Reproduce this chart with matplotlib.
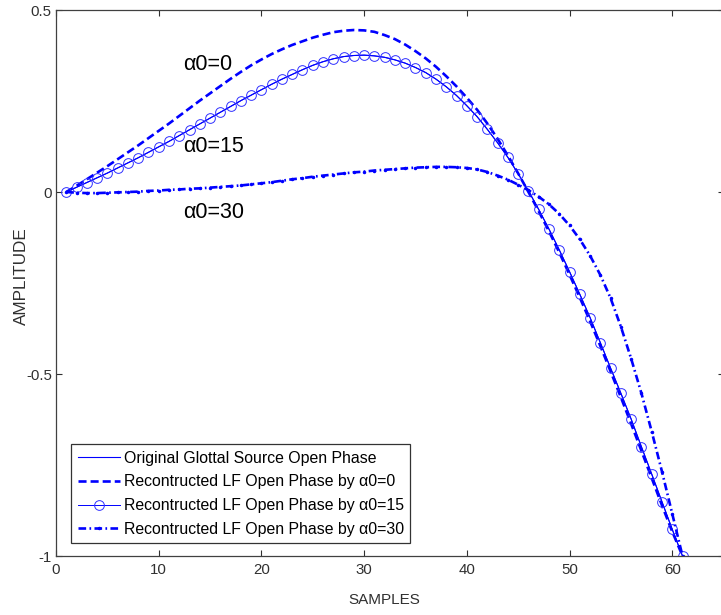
import matplotlib
matplotlib.use("Agg")
import matplotlib.pyplot as plt

plt.rcParams['font.family'] = ['Liberation Sans', 'DejaVu Sans']
plt.rcParams['lines.scale_dashes'] = False

samples = list(range(1, 62))

original = [
    0.000, 0.013, 0.026, 0.039, 0.052, 0.066, 0.080, 0.094, 0.109, 0.124,
    0.139, 0.155, 0.171, 0.187, 0.203, 0.219, 0.235, 0.251, 0.266, 0.281,
    0.296, 0.310, 0.323, 0.336, 0.348, 0.358, 0.366, 0.372, 0.375, 0.376,
    0.374, 0.370, 0.363, 0.354, 0.342, 0.328, 0.310, 0.289, 0.265, 0.237,
    0.207, 0.172, 0.135, 0.095, 0.050, 0.003, -0.048, -0.102, -0.159, -0.219,
    -0.281, -0.345, -0.414, -0.484, -0.553, -0.624, -0.700, -0.775, -0.851, -0.927,
    -1.000,
]

recon_a0 = [
    0.000, 0.017, 0.035, 0.053, 0.071, 0.090, 0.109, 0.128, 0.148, 0.168,
    0.188, 0.209, 0.230, 0.251, 0.271, 0.291, 0.311, 0.330, 0.348, 0.364,
    0.379, 0.392, 0.404, 0.414, 0.424, 0.432, 0.439, 0.443, 0.445, 0.444,
    0.440, 0.431, 0.420, 0.405, 0.387, 0.367, 0.344, 0.318, 0.290, 0.259,
    0.226, 0.188, 0.146, 0.100, 0.051, 0.000, -0.053, -0.108, -0.166, -0.227,
    -0.290, -0.355, -0.423, -0.493, -0.564, -0.637, -0.711, -0.786, -0.861, -0.933,
    -1.000,
]

recon_a15 = [
    0.000, 0.013, 0.026, 0.039, 0.052, 0.066, 0.080, 0.094, 0.109, 0.124,
    0.139, 0.155, 0.171, 0.187, 0.203, 0.219, 0.235, 0.251, 0.266, 0.281,
    0.296, 0.310, 0.323, 0.336, 0.348, 0.358, 0.366, 0.372, 0.375, 0.376,
    0.374, 0.370, 0.363, 0.354, 0.342, 0.328, 0.310, 0.289, 0.265, 0.237,
    0.207, 0.172, 0.135, 0.095, 0.050, 0.003, -0.048, -0.102, -0.159, -0.219,
    -0.281, -0.345, -0.414, -0.484, -0.553, -0.624, -0.700, -0.775, -0.851, -0.927,
    -1.000,
]

recon_a30 = [
    0.000, -0.002, -0.003, -0.003, -0.002, -0.001, 0.000, 0.001, 0.003, 0.004,
    0.006, 0.007, 0.009, 0.010, 0.012, 0.014, 0.016, 0.018, 0.021, 0.024,
    0.027, 0.031, 0.035, 0.038, 0.042, 0.045, 0.048, 0.051, 0.054, 0.056,
    0.059, 0.061, 0.063, 0.065, 0.067, 0.068, 0.069, 0.069, 0.068, 0.066,
    0.062, 0.055, 0.045, 0.034, 0.020, 0.005, -0.013, -0.034, -0.060, -0.092,
    -0.130, -0.175, -0.228, -0.292, -0.370, -0.458, -0.553, -0.658, -0.768, -0.884,
    -1.000,
]

series_labels = [
    'Original Glottal Source Open Phase',
    'Recontructed LF Open Phase by α0=0',
    'Recontructed LF Open Phase by α0=15',
    'Recontructed LF Open Phase by α0=30',
]

curve_notes = ['α0=0', 'α0=15', 'α0=30']
note_x = [12.4, 12.4, 12.4]
note_y = [0.349, 0.126, -0.055]

x_ticks = [0, 10, 20, 30, 40, 50, 60]
y_ticks = [-1, -0.5, 0, 0.5]
y_tick_labels = ['-1', '-0.5', '0', '0.5']

W, H = 721, 615
fig = plt.figure(figsize=(W / 100, H / 100), dpi=100)
ax = fig.add_axes([56 / W, 1 - 556 / H, (723.6 - 56) / W, (556 - 10) / H])

blue = '#0000ff'
ax.plot(samples, original, color=blue, lw=0.8, label=series_labels[0])
ax.plot(samples, recon_a0, color=blue, lw=1.9, dashes=(5.8, 2.9),
        label=series_labels[1])
ax.plot(samples, recon_a15, color=blue, lw=0.7, marker='o', ms=7.0,
        mfc='none', mec='#3030ff', mew=0.7, label=series_labels[2])
ax.plot(samples, recon_a30, color=blue, lw=1.9, dashes=(5.5, 2.4, 1.2, 2.4),
        marker='.', ms=3.0, label=series_labels[3])

for txt, tx, ty in zip(curve_notes, note_x, note_y):
    ax.text(tx, ty, txt, fontsize=15.5, ha='left', va='center', color='black')

ax.set_xlim(0, 65)
ax.set_ylim(-1, 0.5)
ax.set_xticks(x_ticks)
ax.set_xticklabels([str(t) for t in x_ticks])
ax.set_yticks(y_ticks)
ax.set_yticklabels(y_tick_labels)

ax.tick_params(direction='in', length=4.5, width=0.8, top=True, right=True,
               labelsize=10.8, colors='#303030')
ax.tick_params(axis='x', pad=5)
ax.tick_params(axis='y', pad=3)
for sp in ax.spines.values():
    sp.set_color('#404040')
    sp.set_linewidth(0.9)

ax.set_xlabel('SAMPLES', fontsize=11, color='#303030')
ax.xaxis.set_label_coords(384 / W, 1 - 600 / H, transform=fig.transFigure)
ax.xaxis.label.set_va('center')
ax.set_ylabel('AMPLITUDE', fontsize=12.3, color='#303030')
ax.yaxis.set_label_coords(21 / W, 1 - 276 / H, transform=fig.transFigure)
ax.yaxis.label.set_va('center')

leg = ax.legend(loc='upper left',
                bbox_to_anchor=(71 / W, 1 - 444 / H),
                bbox_transform=fig.transFigure,
                fontsize=11.4, frameon=True, fancybox=False,
                edgecolor='black', borderaxespad=0, handlelength=2.65,
                handletextpad=0.25, labelspacing=0.55, borderpad=0.42,
                numpoints=1)
leg.get_frame().set_linewidth(0.9)

fig.savefig('out.png', dpi=100)
